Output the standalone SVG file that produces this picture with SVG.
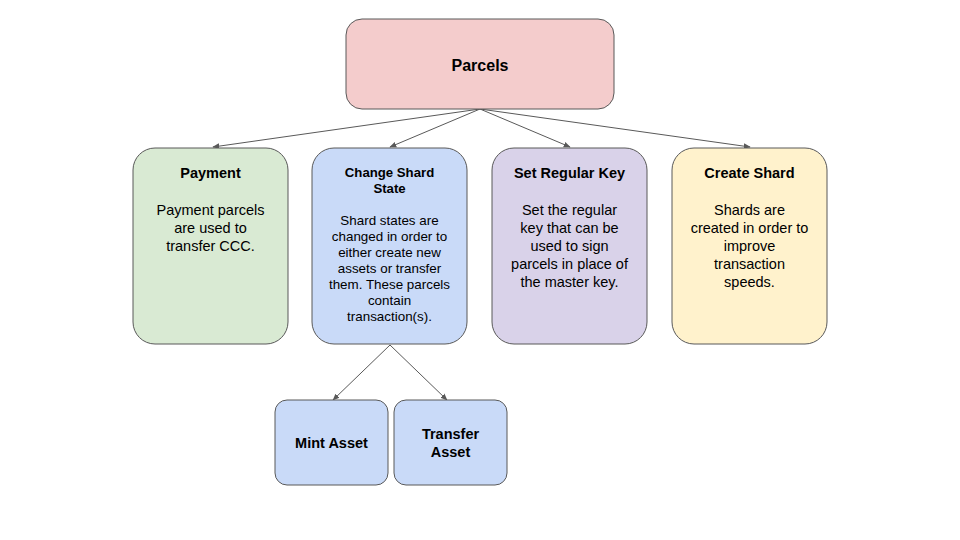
<svg xmlns="http://www.w3.org/2000/svg" width="960" height="540" viewBox="0 0 960 540">
<defs>
<marker id="ah" viewBox="0 0 10 10" refX="9" refY="5" markerWidth="7" markerHeight="7" markerUnits="userSpaceOnUse" orient="auto">
<path d="M0,1 L10,5 L0,9 z" fill="#595959"/>
</marker>
<style>
.box{stroke:#595959;stroke-width:1}
.t{font-family:"Liberation Sans",Arial,sans-serif;font-weight:bold;text-anchor:middle;fill:#000}
.b{font-family:"Liberation Sans",Arial,sans-serif;text-anchor:middle;fill:#000}
.c{stroke:#595959;stroke-width:1;fill:none;marker-end:url(#ah)}
</style>
</defs>
<rect width="960" height="540" fill="#fff"/>
<g id="connectors">
<line class="c" x1="480" y1="109" x2="213" y2="147"/>
<line class="c" x1="480" y1="109" x2="390" y2="147"/>
<line class="c" x1="480" y1="109" x2="570" y2="147"/>
<line class="c" x1="480" y1="109" x2="750" y2="147"/>
<line class="c" x1="390" y1="345" x2="333" y2="400"/>
<line class="c" x1="390" y1="345" x2="447" y2="400"/>
</g>
<g id="parcels">
<rect class="box" x="346" y="19" width="268" height="90" rx="16" fill="#f4cccc"/>
<text class="t" x="480" y="71" font-size="16">Parcels</text>
</g>
<g id="payment">
<rect class="box" x="133" y="148" width="155" height="196" rx="22" fill="#d9ead3"/>
<text class="t" x="210.5" y="178" font-size="14.5">Payment</text>
<text class="b" font-size="14.5"><tspan x="210.5" y="215">Payment parcels</tspan><tspan x="210.5" y="233">are used to</tspan><tspan x="210.5" y="251">transfer CCC.</tspan></text>
</g>
<g id="change-shard-state">
<rect class="box" x="312" y="148" width="155" height="196" rx="22" fill="#c9daf8"/>
<text class="t" font-size="13.2"><tspan x="389.5" y="177">Change Shard</tspan><tspan x="389.5" y="193">State</tspan></text>
<text class="b" font-size="13.4"><tspan x="389.5" y="225">Shard states are</tspan><tspan x="389.5" y="241">changed in order to</tspan><tspan x="389.5" y="257">either create new</tspan><tspan x="389.5" y="273">assets or transfer</tspan><tspan x="389.5" y="289">them. These parcels</tspan><tspan x="389.5" y="305">contain</tspan><tspan x="389.5" y="321">transaction(s).</tspan></text>
</g>
<g id="set-regular-key">
<rect class="box" x="492" y="148" width="155" height="196" rx="22" fill="#d9d2e9"/>
<text class="t" x="569.5" y="178" font-size="14.5">Set Regular Key</text>
<text class="b" font-size="14.5"><tspan x="569.5" y="215">Set the regular</tspan><tspan x="569.5" y="233">key that can be</tspan><tspan x="569.5" y="251">used to sign</tspan><tspan x="569.5" y="269">parcels in place of</tspan><tspan x="569.5" y="287">the master key.</tspan></text>
</g>
<g id="create-shard">
<rect class="box" x="672" y="148" width="155" height="196" rx="22" fill="#fff2cc"/>
<text class="t" x="749.5" y="178" font-size="14.5">Create Shard</text>
<text class="b" font-size="14.5"><tspan x="749.5" y="215">Shards are</tspan><tspan x="749.5" y="233">created in order to</tspan><tspan x="749.5" y="251">improve</tspan><tspan x="749.5" y="269">transaction</tspan><tspan x="749.5" y="287">speeds.</tspan></text>
</g>
<g id="mint-asset">
<rect class="box" x="275" y="400" width="113" height="85" rx="12" fill="#c9daf8"/>
<text class="t" x="331.5" y="448" font-size="14.5">Mint Asset</text>
</g>
<g id="transfer-asset">
<rect class="box" x="394" y="400" width="113" height="85" rx="12" fill="#c9daf8"/>
<text class="t" font-size="14.5"><tspan x="450.5" y="439">Transfer</tspan><tspan x="450.5" y="457">Asset</tspan></text>
</g>
</svg>
